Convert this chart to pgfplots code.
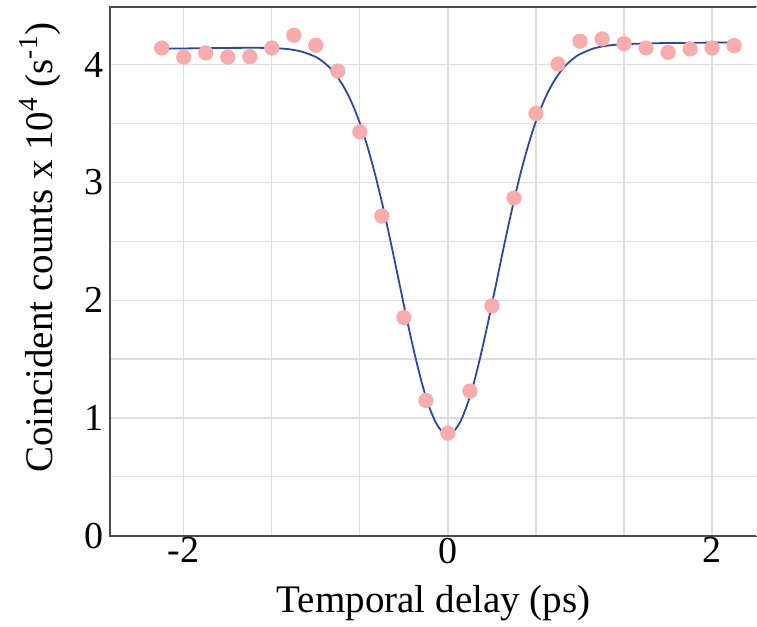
\documentclass[border=0pt]{standalone}
\usepackage{pgfplots}
\pgfplotsset{compat=1.18}
\usepackage{fontspec}
\setmainfont{Liberation Serif}
\definecolor{dotpink}{RGB}{248,172,172}
\definecolor{fitblue}{RGB}{45,72,160}
\definecolor{gridgray}{RGB}{222,222,222}
\begin{document}
\begin{tikzpicture}
\begin{axis}[
  name=ax,
  scale only axis,
  width=323pt, height=264pt,
  xmin=-2.557, xmax=2.34,
  ymin=0, ymax=4.49,
  axis line style={draw=black!70, line width=0.8pt},
  xtick={-2,0,2},
  minor xtick={-1.3333,-0.6667,0.6667,1.3333},
  ytick={0,1,2,3,4},
  minor ytick={0.5,1.5,2.5,3.5},
  grid=both,
  major grid style={gridgray, line width=0.6pt},
  minor grid style={gridgray, line width=0.6pt},
  major tick length=0pt, minor tick length=0pt,
  /pgf/number format/assume math mode=true,
  tick label style={font=\fontsize{19}{22}\selectfont},
  xticklabel style={yshift=2.5pt},
  yticklabel style={xshift=0pt},
  xlabel={Temporal delay (ps)},
  ylabel={Coincident counts x 10\textsuperscript{4} (s\textsuperscript{-1})},
  label style={font=\fontsize{19.5}{23}\selectfont},
  xlabel style={yshift=-4pt},
  ylabel style={at={(ticklabel cs:0.545)}, yshift=4.5pt},
]
\addplot[only marks, color=dotpink, mark=*, mark size=3.6pt, mark options={draw=dotpink, fill=dotpink}]
coordinates {
(-2.1667,4.142) (-2.0,4.065) (-1.8333,4.100) (-1.6667,4.065) (-1.5,4.068)
(-1.3333,4.142) (-1.1667,4.250) (-1.0,4.165) (-0.8333,3.946) (-0.6667,3.430)
(-0.5,2.715) (-0.3333,1.853) (-0.1667,1.149) (0,0.871) (0.1667,1.228)
(0.3333,1.952) (0.5,2.868) (0.6667,3.586) (0.8333,4.006) (1.0,4.200)
(1.1667,4.219) (1.3333,4.179) (1.5,4.142) (1.6667,4.105) (1.8333,4.134)
(2.0,4.142) (2.1667,4.162)
};
\addplot[fitblue, line width=0.9pt, smooth] coordinates {
(-2.1667,4.136) (-2.0,4.138) (-1.8,4.141) (-1.6,4.143) (-1.4,4.143)
(-1.3,4.140) (-1.2,4.131) (-1.1,4.109) (-1.0,4.066) (-0.95,4.029)
(-0.9,3.981) (-0.85,3.916) (-0.8,3.834) (-0.75,3.731) (-0.7,3.603)
(-0.65,3.450) (-0.6,3.270) (-0.55,3.063) (-0.5,2.833) (-0.45,2.582)
(-0.4,2.319) (-0.35,2.049) (-0.3,1.783) (-0.25,1.534) (-0.2,1.309)
(-0.15,1.121) (-0.1,0.980) (-0.05,0.892) (0,0.863) (0.05,0.894)
(0.1,0.982) (0.15,1.125) (0.2,1.313) (0.25,1.540) (0.3,1.791)
(0.35,2.057) (0.4,2.329) (0.45,2.594) (0.5,2.845) (0.55,3.077)
(0.6,3.284) (0.65,3.466) (0.7,3.621) (0.75,3.749) (0.8,3.854)
(0.85,3.938) (0.9,4.003) (0.95,4.053) (1.0,4.090) (1.1,4.137)
(1.2,4.161) (1.3,4.172) (1.4,4.177) (1.6,4.183) (1.8,4.185)
(2.0,4.188) (2.1667,4.190)
};
\end{axis}
\draw[white, line width=1.2pt] (ax.south east) -- (ax.north east);
\pgfresetboundingbox
\path ([xshift=-55pt,yshift=-45.5pt]ax.south west) rectangle ([yshift=3.5pt]ax.north east);
\end{tikzpicture}
\end{document}
